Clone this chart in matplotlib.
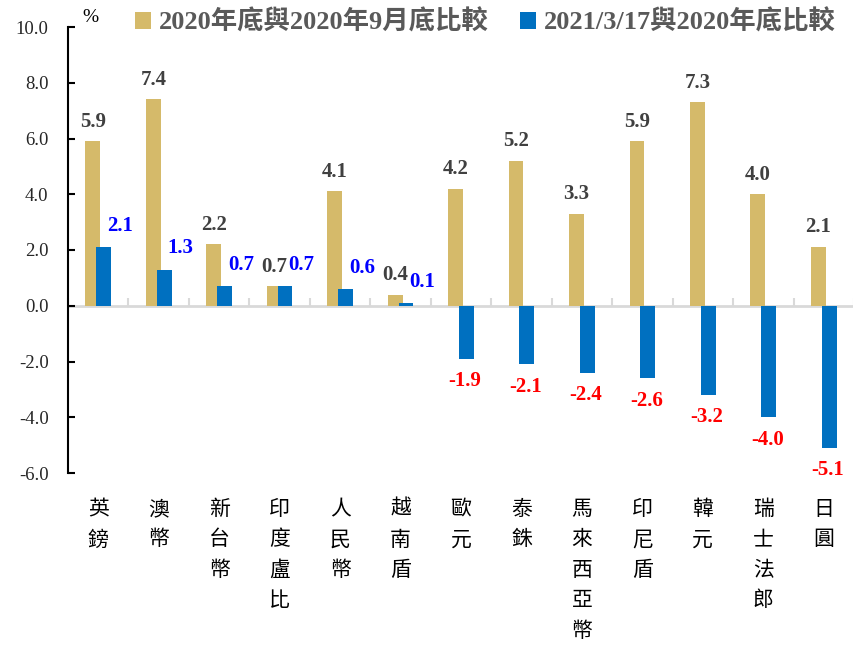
import numpy as np
import matplotlib
matplotlib.use("Agg")
import matplotlib.pyplot as plt
import matplotlib.transforms as mtransforms

plt.rcParams['font.family'] = ['Liberation Serif', 'Noto Sans CJK TC']

# data
currencies = ["英鎊", "澳幣", "新台幣", "印度盧比", "人民幣", "越南盾", "歐元",
              "泰銖", "馬來西亞幣", "印尼盾", "韓元", "瑞士法郎", "日圓"]
chg_2020_vs_sep = [5.9, 7.4, 2.2, 0.7, 4.1, 0.4, 4.2, 5.2, 3.3, 5.9, 7.3, 4.0, 2.1]
chg_0317_vs_2020 = [2.1, 1.3, 0.7, 0.7, 0.6, 0.1, -1.9, -2.1, -2.4, -2.6, -3.2, -4.0, -5.1]
legend_labels = ["2020年底與2020年9月底比較", "2021/3/17與2020年底比較"]
yticks = np.arange(-6, 10.1, 2)

gold = "#D5BA6A"
blue = "#0070C0"

fig = plt.figure(figsize=(8.54, 6.46), dpi=100)
ax = fig.add_axes([68/854, 173/646, 786/854, 446/646])

x = np.arange(len(currencies))
w = 0.245
b1 = ax.bar(x - 0.09, chg_2020_vs_sep, w, color=gold, label=legend_labels[0], zorder=2)
b2 = ax.bar(x + 0.09, chg_0317_vs_2020, w, color=blue, label=legend_labels[1], zorder=3)

# value labels
for xi, v in zip(x - 0.09, chg_2020_vs_sep):
    ax.annotate(f"{v:.1f}", (xi, v), xytext=(0, 7), textcoords="offset points",
                ha="center", va="bottom", fontsize=15, fontweight="bold", color="#404040")
for xi, v in zip(x + 0.09, chg_0317_vs_2020):
    if v >= 0:
        ax.annotate(f"{v:.1f}", (xi, v), xytext=(12, 8), textcoords="offset points",
                    ha="center", va="bottom", fontsize=15, fontweight="bold", color="#0000FF")
    else:
        ax.annotate(f"{v:.1f}", (xi, v), xytext=(-1, -9), textcoords="offset points",
                    ha="center", va="top", fontsize=15, fontweight="bold", color="#FF0000")

ax.set_xlim(-0.5, 12.35)
ax.set_ylim(-6, 10)
ax.set_yticks(yticks)
ax.set_yticklabels([f"{t:.1f}" for t in yticks], fontsize=13.5, color="#262626")
ax.tick_params(axis="y", direction="in", length=5, width=1.5, color="black", pad=14)

ax.set_xticks(np.arange(len(currencies) + 1) - 0.5)
ax.set_xticklabels([])
ax.tick_params(axis="x", direction="in", length=6, width=1.5, color="#d9d9d9")

ax.spines["top"].set_visible(False)
ax.spines["right"].set_visible(False)
ax.spines["left"].set_linewidth(1.5)
ax.spines["bottom"].set_position(("data", 0))
ax.spines["bottom"].set_color("#d9d9d9")
ax.spines["bottom"].set_linewidth(2)
ax.spines["bottom"].set_zorder(1)

# vertical category labels
trans = mtransforms.blended_transform_factory(ax.transData, ax.transAxes)
for xi, name in zip(x, currencies):
    ax.text(xi, -0.056, "\n".join(name), transform=trans, ha="center", va="top",
            fontsize=15, family=["Noto Sans CJK TC"], linespacing=1.5, color="black")

fig.text(90/854, 1 - 18/646, "%", fontsize=14, ha="center", va="center")

leg = fig.legend(handles=[b1, b2], loc="center", bbox_to_anchor=(0.568, 0.966), ncol=2,
                 frameon=False, prop={"size": 19, "weight": "bold"},
                 handlelength=0.6, handleheight=0.6, handletextpad=0.3, columnspacing=1.2)
for t in leg.get_texts():
    t.set_color("#595959")

fig.savefig("out.png", dpi=100)
